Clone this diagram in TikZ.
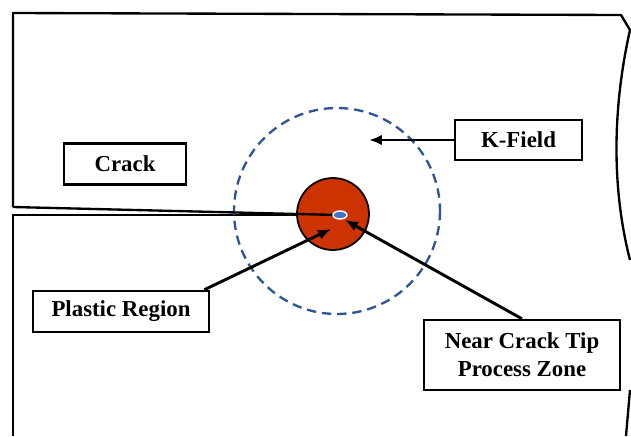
\documentclass[tikz,border=0pt]{standalone}
\usepackage{fontspec}
\setmainfont{Liberation Serif}
\usetikzlibrary{positioning,arrows.meta}
\definecolor{tipred}{RGB}{204,51,0}
\definecolor{kblue}{RGB}{47,85,151}
\definecolor{zoneblue}{RGB}{68,114,196}

\begin{document}
\begin{tikzpicture}[x=0.03cm,y=-0.03cm,
			% label boxes
			labelnode/.style={rectangle, draw=black, line width=2pt, font=\fontsize{19.5}{24}\selectfont\bfseries, align=center, inner sep=0pt},
			% body outline
			body/.style={draw=black, line width=2pt},
			% pointer arrows
			pointer/.style={-{Latex[length=11pt,width=9pt]}, line width=2.5pt}
		]
		\useasboundingbox (0,0) rectangle (631,436);
		% specimen outline
		\draw[body] (13,207) -- (13,13) -- (621,15) -- (630,30)
			.. controls (612,110) and (612,190) .. (630,260);
		\draw[body] (13,436) -- (13,215) -- (338,215);
		\draw[body] (630,390) -- (626,436);
		% zones
		\draw[kblue, dashed, line width=2pt, dash pattern=on 8pt off 5pt] (337,211) circle (103);
		\draw[fill=tipred, line width=1.5pt] (333,214) circle (36);
		\draw[body] (13,207) -- (338,215);
		\draw[fill=zoneblue, draw=white, line width=1.2pt] (340,215) ellipse (7 and 4);
		\coordinate (kpoint) at (369,140);
		\coordinate (plpoint) at (331,229);
		\coordinate (nzpoint) at (345,220);
		%Nodes
		\node[labelnode, minimum width=122*0.03cm, minimum height=41*0.03cm] (crack)   at (125,164)   {Crack};
		\node[labelnode, minimum width=127*0.03cm, minimum height=40*0.03cm] (kfield)  at (518.5,140) {K-Field};
		\node[labelnode, minimum width=176*0.03cm, minimum height=41*0.03cm] (plastic) at (121,311.5) {Plastic Region};
		\node[labelnode, minimum width=196*0.03cm, minimum height=70*0.03cm] (zone)    at (522,355)   {Near Crack Tip\\Process Zone};

		%Lines
		\draw[pointer] (kfield.west)            --            (kpoint);
		\draw[pointer] (plastic.north east)     ++(-6,0) --   (plpoint);
		\draw[pointer] (zone.north)             --            (nzpoint);
	\end{tikzpicture}
\end{document}
